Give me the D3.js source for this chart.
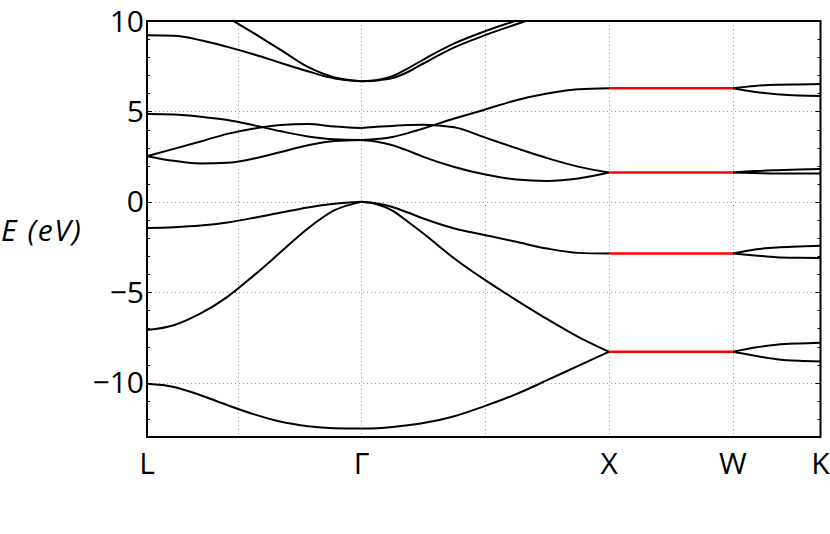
<!DOCTYPE html>
<html>
<head>
<meta charset="utf-8">
<script src="https://cdn.jsdelivr.net/npm/d3@7"></script>
<style>
  html, body { margin: 0; padding: 0; background: #fff; }
  svg { display: block; }
  text { font-family: "Open Sans", "Liberation Sans", sans-serif; fill: #000; }
</style>
</head>
<body>
<svg id="chart" width="830" height="534"></svg>
<script>
// ---- data ----
const kLabels = ["L", "Γ", "X", "W", "K"];
const kPositions = [-0.8660, 0, 1, 1.5, 1.8536];
const yTickValues = [-10, -5, 0, 5, 10];
const yTickLabels = ["−10", "−5", "0", "5", "10"];
const xGridValues = [-0.5, 0, 0.5, 1, 1.5];
const yGridValues = [-10, -5, 0, 5];
const fracsLG = [0, 0.125, 0.25, 0.375, 0.5, 0.625, 0.75, 0.875, 1];
const fracsGX = [0, 0.0625, 0.125, 0.1875, 0.25, 0.375, 0.5, 0.625, 0.75, 0.875, 1];
const fracsWK = [0, 0.25, 0.5, 0.75, 1];

// L -> Gamma
const bandsLG = [
  [9.21, 9.18, 8.94, 8.57, 8.15, 7.68, 7.22, 6.82, 6.67],
  [null, null, 11.1, 10.2, 9.31, 8.39, 7.46, 6.88, 6.67],
  [4.86, 4.83, 4.71, 4.53, 4.23, 3.90, 3.62, 3.46, 3.42],
  [2.53, 2.93, 3.34, 3.76, 4.06, 4.25, 4.30, 4.17, 4.08],
  [2.53, 2.27, 2.12, 2.16, 2.40, 2.76, 3.13, 3.37, 3.42],
  [-1.44, -1.40, -1.31, -1.14, -0.88, -0.59, -0.31, -0.11, 0],
  [-7.09, -6.82, -6.17, -5.25, -4.05, -2.76, -1.47, -0.46, 0],
  [-10.06, -10.23, -10.69, -11.24, -11.75, -12.16, -12.40, -12.51, -12.53]
];
// Gamma -> X
const bandsGX = [
  [6.67, 6.74, 6.95, 7.38, 7.87, 8.76, 9.44, 10.02, 10.6, null, null],
  [6.67, 6.71, 6.84, 7.18, 7.65, 8.54, 9.22, 9.82, 10.4, null, null],
  [4.08, 4.15, 4.20, 4.25, 4.27, 4.12, 3.55, 2.97, 2.42, 1.95, 1.62],
  [3.42, 3.47, 3.59, 3.80, 4.06, 4.61, 5.11, 5.62, 5.99, 6.23, 6.28],
  [3.42, 3.33, 3.13, 2.83, 2.49, 1.93, 1.51, 1.24, 1.16, 1.29, 1.62],
  [0, -0.09, -0.28, -0.59, -0.92, -1.47, -1.84, -2.21, -2.58, -2.82, -2.86],
  [0, -0.13, -0.48, -1.10, -1.75, -3.13, -4.33, -5.43, -6.48, -7.46, -8.29],
  [-12.53, -12.51, -12.45, -12.35, -12.23, -11.85, -11.28, -10.63, -9.86, -9.07, -8.29]
];
// X -> W (flat, degenerate)
const bandsXW = [6.28, 1.62, -2.86, -8.29];
// W -> K
const bandsWK = [
  [6.28, 6.41, 6.47, 6.49, 6.51],
  [6.28, 6.08, 5.95, 5.88, 5.86],
  [1.62, 1.70, 1.75, 1.79, 1.82],
  [1.62, 1.59, 1.57, 1.57, 1.57],
  [-2.86, -2.63, -2.52, -2.47, -2.43],
  [-2.86, -2.96, -3.06, -3.09, -3.10],
  [-8.29, -8.05, -7.90, -7.83, -7.79],
  [-8.29, -8.51, -8.70, -8.79, -8.82]
];

// ---- layout ----
const svg = d3.select("#chart");
const mLeft = 147, mRight = 820.5, mTop = 21, mBottom = 437;
const x = d3.scaleLinear().domain([kPositions[0], kPositions[4]]).range([mLeft, mRight]);
const y = d3.scaleLinear().domain([-13, 10]).range([mBottom, mTop]);

svg.append("rect").attr("width", 830).attr("height", 534).attr("fill", "#fff");

svg.append("defs").append("clipPath").attr("id", "plotclip")
  .append("rect").attr("x", mLeft).attr("y", mTop).attr("width", mRight - mLeft).attr("height", mBottom - mTop);

// grid
const grid = svg.append("g").attr("stroke", "#9a9a9a").attr("stroke-width", 1).attr("stroke-dasharray", "1,3");
grid.selectAll("line.v").data(xGridValues).join("line")
  .attr("x1", d => Math.round(x(d)) + 0.5).attr("x2", d => Math.round(x(d)) + 0.5)
  .attr("y1", mTop).attr("y2", mBottom);
grid.selectAll("line.h").data(yGridValues).join("line")
  .attr("y1", d => Math.round(y(d)) + 0.5).attr("y2", d => Math.round(y(d)) + 0.5)
  .attr("x1", mLeft).attr("x2", mRight);

// bands
const plot = svg.append("g").attr("clip-path", "url(#plotclip)");
const line = d3.line()
  .defined(d => d[1] !== null)
  .x(d => x(d[0])).y(d => y(d[1]))
  .curve(d3.curveMonotoneX);

function segPoints(k0, k1, fracs, vals) {
  return fracs.map((f, i) => [k0 + (k1 - k0) * f, vals[i]]);
}

bandsLG.forEach(b => plot.append("path")
  .attr("d", line(segPoints(kPositions[0], kPositions[1], fracsLG, b)))
  .attr("fill", "none").attr("stroke", "#000").attr("stroke-width", 2));
bandsGX.forEach(b => plot.append("path")
  .attr("d", line(segPoints(kPositions[1], kPositions[2], fracsGX, b)))
  .attr("fill", "none").attr("stroke", "#000").attr("stroke-width", 2));
bandsWK.forEach(b => plot.append("path")
  .attr("d", line(segPoints(kPositions[3], kPositions[4], fracsWK, b)))
  .attr("fill", "none").attr("stroke", "#000").attr("stroke-width", 2));
bandsXW.forEach(v => plot.append("path")
  .attr("d", line([[kPositions[2], v], [kPositions[3], v]]))
  .attr("fill", "none").attr("stroke", "#ff0000").attr("stroke-width", 2.5));

// minor ticks on left and right
const minorTicks = d3.range(-13, 11);
const ticks = svg.append("g").attr("stroke", "#000").attr("stroke-width", 1);
ticks.selectAll("line.l").data(minorTicks).join("line")
  .attr("x1", mLeft).attr("x2", d => mLeft + (d % 5 === 0 ? 5 : 3))
  .attr("y1", d => Math.round(y(d)) + 0.5).attr("y2", d => Math.round(y(d)) + 0.5);
ticks.selectAll("line.r").data(minorTicks).join("line")
  .attr("x1", mRight).attr("x2", d => mRight - (d % 5 === 0 ? 5 : 3))
  .attr("y1", d => Math.round(y(d)) + 0.5).attr("y2", d => Math.round(y(d)) + 0.5);

// frame
svg.append("rect").attr("x", mLeft).attr("y", mTop).attr("width", mRight - mLeft).attr("height", mBottom - mTop)
  .attr("fill", "none").attr("stroke", "#000").attr("stroke-width", 2);

// y tick labels
svg.append("g").selectAll("text").data(yTickValues).join("text")
  .attr("x", mLeft - 3).attr("y", d => y(d) + 10.5)
  .attr("text-anchor", "end").attr("font-size", 30)
  .text((d, i) => yTickLabels[i]);

// x labels
svg.append("g").selectAll("text").data(kPositions).join("text")
  .attr("x", d => x(d)).attr("y", 473.5)
  .attr("text-anchor", "middle").attr("font-size", 30)
  .text((d, i) => kLabels[i]);

// y axis title
svg.append("text").attr("x", 1).attr("y", 241).attr("font-size", 30).attr("font-style", "italic")
  .attr("letter-spacing", 1.6)
  .text("E (eV)");
</script>
</body>
</html>
